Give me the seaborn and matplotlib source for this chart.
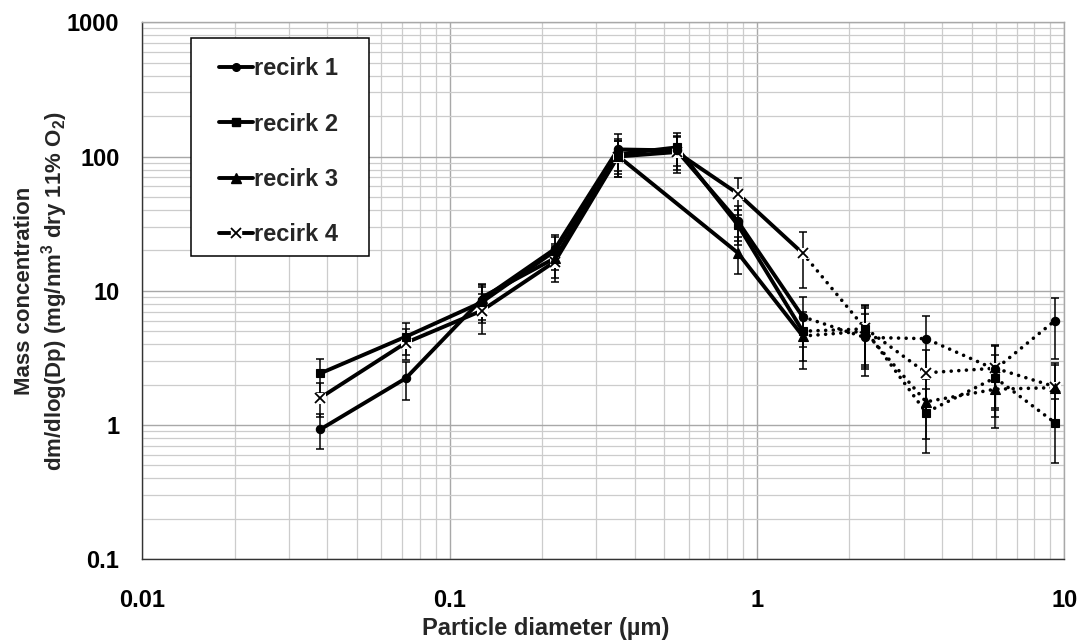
import numpy as np
import pandas as pd
import matplotlib
matplotlib.use("Agg")
import matplotlib.pyplot as plt
from matplotlib.lines import Line2D
from matplotlib.patches import Rectangle
from matplotlib.ticker import LogLocator, FixedLocator, FixedFormatter, NullFormatter
import seaborn as sns

# ---------------- data ----------------
diameters = [0.038, 0.072, 0.127, 0.22, 0.353, 0.548, 0.866, 1.41, 2.24, 3.55, 5.96, 9.33]
series_names = ["recirk 1", "recirk 2", "recirk 3", "recirk 4"]

recirk1 = [0.93, 2.23, 8.6, 20.5, 113, 111, 33, 6.4, 4.5, 4.4, 2.6, 6.0]
recirk2 = [2.43, 4.55, 8.2, 19.8, 104, 117, 31, 5.0, 5.2, 1.24, 2.25, 1.04]
recirk3 = [np.nan, np.nan, 8.9, 17.5, 101, np.nan, 19.2, 4.6, 5.0, 1.49, 1.85, 1.9]
recirk4 = [1.6, 4.1, 7.1, 16.5, 100, 108, 53, 19.0, 5.3, 2.45, 2.65, 1.93]

err1 = [0.27, 0.70, 2.5, 5.5, 35, 32, 9.5, 2.6, 2.2, 2.1, 1.3, 2.9]
err2 = [0.69, 1.25, 2.4, 5.5, 30, 32, 9.0, 2.0, 2.5, 0.62, 1.1, 0.52]
err3 = [np.nan, np.nan, 2.3, 5.0, 30, np.nan, 5.8, 2.0, 2.4, 0.70, 0.90, 0.90]
err4 = [0.46, 1.05, 2.3, 4.9, 30, 32, 16, 8.5, 2.5, 1.2, 1.3, 0.95]

solid_until = 1.41  # measured points up to here joined by solid lines, after by dotted

x_ticks = [0.01, 0.1, 1, 10]
x_tick_labels = ["0.01", "0.1", "1", "10"]
y_ticks = [0.1, 1, 10, 100, 1000]
y_tick_labels = ["0.1", "1", "10", "100", "1000"]

x_label = "Particle diameter (µm)"
y_label = "Mass concentration\ndm/dlog(Dp) (mg/nm$^3$ dry 11% O$_2$)"

# ---------------- style ----------------
sns.set_style("white")
plt.rcParams["font.family"] = ["Liberation Sans", "DejaVu Sans"]
plt.rcParams["font.weight"] = "bold"
plt.rcParams["mathtext.fontset"] = "custom"
plt.rcParams["mathtext.rm"] = "Liberation Sans:bold"
plt.rcParams["mathtext.it"] = "Liberation Sans:bold"
plt.rcParams["mathtext.bf"] = "Liberation Sans:bold"
plt.rcParams["mathtext.default"] = "rm"

FS = 17

fig = plt.figure(figsize=(10.83, 6.42), dpi=100)
ax = fig.add_axes([0.1314, 0.1288, 0.8513, 0.8365])
ax.set_xscale("log")
ax.set_yscale("log")

markers = {
    "recirk 1": dict(marker="o", ms=6.0),
    "recirk 2": dict(marker="s", ms=5.8),
    "recirk 3": dict(marker="^", ms=7.0),
    "recirk 4": dict(marker="x", ms=7.5),
}

all_vals = [recirk1, recirk2, recirk3, recirk4]
all_errs = [err1, err2, err3, err4]

for name, vals, errs in zip(series_names, all_vals, all_errs):
    df = pd.DataFrame({"d": diameters, "c": vals, "e": errs}).dropna()
    solid = df[df["d"] <= solid_until]
    dotted = df[df["d"] >= solid_until]

    ax.errorbar(df["d"], df["c"], yerr=df["e"], fmt="none", ecolor="black",
                elinewidth=1.1, capsize=2.8, capthick=1.1, zorder=3)

    sns.lineplot(data=solid, x="d", y="c", ax=ax, color="black", linewidth=2.8,
                 errorbar=None, legend=False, zorder=4, solid_capstyle="round",
                 solid_joinstyle="round")
    sns.lineplot(data=dotted, x="d", y="c", ax=ax, color="black", linewidth=2.6,
                 linestyle=(0, (0.01, 2.1)), dash_capstyle="round",
                 errorbar=None, legend=False, zorder=4)

    mk = markers[name]
    if mk["marker"] == "x":
        sns.lineplot(data=df, x="d", y="c", ax=ax, color="white", linestyle="",
                     marker="s", markersize=7.5, markeredgecolor="white",
                     markerfacecolor="white", errorbar=None, legend=False, zorder=5)
        sns.lineplot(data=df, x="d", y="c", ax=ax, color="black", linestyle="",
                     marker="x", markersize=mk["ms"], markeredgecolor="black",
                     markeredgewidth=1.3, errorbar=None, legend=False, zorder=6)
    else:
        sns.lineplot(data=df, x="d", y="c", ax=ax, color="black", linestyle="",
                     marker=mk["marker"], markersize=mk["ms"],
                     markeredgecolor="black", markerfacecolor="black",
                     markeredgewidth=0.8, errorbar=None, legend=False, zorder=6)

# ---------------- axes ----------------
ax.set_xlim(x_ticks[0], x_ticks[-1])
ax.set_ylim(y_ticks[0], y_ticks[-1])
ax.xaxis.set_major_locator(FixedLocator(x_ticks))
ax.xaxis.set_major_formatter(FixedFormatter(x_tick_labels))
ax.yaxis.set_major_locator(FixedLocator(y_ticks))
ax.yaxis.set_major_formatter(FixedFormatter(y_tick_labels))
ax.xaxis.set_minor_locator(LogLocator(base=10, subs=np.arange(2, 10), numticks=30))
ax.yaxis.set_minor_locator(LogLocator(base=10, subs=np.arange(2, 10), numticks=30))
ax.xaxis.set_minor_formatter(NullFormatter())
ax.yaxis.set_minor_formatter(NullFormatter())

ax.set_axisbelow(True)
ax.grid(which="major", color="#a8a8a8", linewidth=1.0)
ax.grid(which="minor", color="#cccccc", linewidth=0.9)
ax.tick_params(which="minor", length=0)
ax.tick_params(which="major", direction="out", length=5.5, width=1.0, color="black",
               labelsize=FS, labelcolor="black")
ax.tick_params(axis="x", which="major", pad=16)
ax.tick_params(axis="y", which="major", pad=11)

for side in ["left", "bottom"]:
    ax.spines[side].set_color("#333333")
    ax.spines[side].set_linewidth(1.0)
for side in ["top", "right"]:
    ax.spines[side].set_color("#a8a8a8")
    ax.spines[side].set_linewidth(1.0)

ax.set_xlabel(x_label, fontsize=FS, fontweight="bold")
ax.xaxis.set_label_coords(0.437, -0.108)
ax.set_ylabel(y_label, fontsize=FS - 1, fontweight="bold", linespacing=1.22)
ax.yaxis.set_label_coords(-0.078, 0.5)

# ---------------- legend ----------------
handles = []
for name in series_names:
    mk = markers[name]
    if mk["marker"] == "x":
        h = (Line2D([], [], color="black", linewidth=2.8),
             Line2D([], [], linestyle="", marker="s", markersize=7.5,
                    markerfacecolor="white", markeredgecolor="white"),
             Line2D([], [], linestyle="", marker="x", markersize=mk["ms"],
                    markeredgecolor="black", markeredgewidth=1.3))
    else:
        h = Line2D([], [], color="black", linewidth=2.8, marker=mk["marker"],
                   markersize=mk["ms"] - 0.5, markerfacecolor="black",
                   markeredgecolor="black")
    handles.append(h)

box = Rectangle((0.0528, 0.5645), 0.1931, 0.4063, transform=ax.transAxes,
                facecolor="white", edgecolor="black", linewidth=1.1, zorder=8)
ax.add_patch(box)
leg = ax.legend(handles, series_names, loc="upper left",
                bbox_to_anchor=(0.0837, 0.935), borderaxespad=0, borderpad=0,
                frameon=False, prop={"size": FS, "weight": "bold"},
                labelspacing=1.37, handlelength=1.4, handletextpad=0.08)
leg.set_zorder(9)

fig.savefig("out.png", dpi=100)
